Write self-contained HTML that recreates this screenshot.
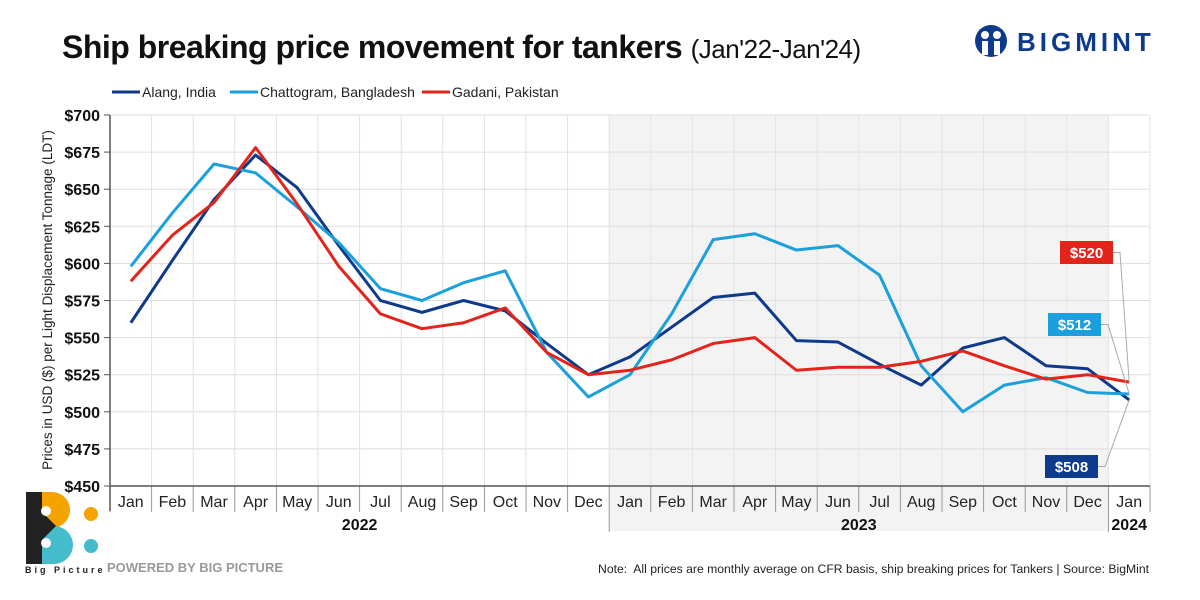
<!DOCTYPE html>
<html><head><meta charset="utf-8">
<style>
body{margin:0;width:1200px;height:600px;background:#fff;font-family:"Liberation Sans",sans-serif;overflow:hidden;position:relative}
.t{position:absolute;white-space:nowrap}
</style></head><body>
<div class="t" style="left:62px;top:29px;font-size:32px;font-weight:bold;color:#111;letter-spacing:-0.5px">Ship breaking price movement for tankers <span style="font-weight:normal;font-size:26px">(Jan'22-Jan'24)</span></div>
<div style="position:absolute;left:973px;top:24px;width:190px;height:34px">
<svg width="40" height="36" viewBox="0 0 40 36"><circle cx="18" cy="17" r="16" fill="#0e3a8c"/><circle cx="12" cy="11" r="4" fill="#fff"/><circle cx="24" cy="11" r="4" fill="#fff"/><rect x="9" y="17" width="6" height="14" fill="#fff"/><rect x="21" y="17" width="6" height="14" fill="#fff"/></svg>
<span class="t" style="left:44px;top:3px;font-size:26px;font-weight:bold;color:#0e3a8c;letter-spacing:4px">BIGMINT</span></div>
<svg id="c" width="1200" height="600" style="position:absolute;left:0;top:0"></svg>
<div style="position:absolute;left:24px;top:492px">
<svg width="80" height="72"><circle cx="28" cy="18" r="18" fill="#f4a300"/><rect x="2" y="0" width="26" height="36" fill="#f4a300"/><circle cx="30" cy="53" r="19" fill="#45bccc"/><rect x="2" y="34" width="28" height="38" fill="#45bccc"/><rect x="2" y="0" width="16" height="72" fill="#222"/><path d="M18,20 L32,34 L18,48Z" fill="#222"/><circle cx="22" cy="19" r="5" fill="#fff"/><circle cx="22" cy="51" r="5" fill="#fff"/><circle cx="67" cy="22" r="7" fill="#f4a300"/><circle cx="67" cy="54" r="7" fill="#45bccc"/></svg></div>
<div class="t" style="left:25px;top:565px;font-size:9px;font-weight:bold;letter-spacing:3px;color:#222">Big Picture</div>
<div class="t" style="left:107px;top:560px;font-size:13px;font-weight:bold;color:#999">POWERED BY BIG PICTURE</div>
<div class="t" style="right:51px;top:562px;font-size:12.2px;color:#222">Note:&nbsp; All prices are monthly average on CFR basis, ship breaking prices for Tankers | Source: BigMint</div>
<script>
const months=["Jan","Feb","Mar","Apr","May","Jun","Jul","Aug","Sep","Oct","Nov","Dec","Jan","Feb","Mar","Apr","May","Jun","Jul","Aug","Sep","Oct","Nov","Dec","Jan"];
const yTicks=[450,475,500,525,550,575,600,625,650,675,700];
const alang=[560,602,643,673,651,612,575,567,575,568,546,525,537,557,577,580,548,547,532,518,543,550,531,529,508];
const chattogram=[598,634,667,661,638,614,583,575,587,595,540,510,525,566,616,620,609,612,592,531,500,518,523,513,512];
const gadani=[588,619,641,678,640,598,566,556,560,570,540,525,528,535,546,550,528,530,530,534,541,531,522,525,520];
const svg=document.getElementById('c');const NS='http://www.w3.org/2000/svg';
const L=110,R=1150,T=115,B=486,bw=(R-L)/months.length;
const x=i=>L+bw*(i+0.5),y=v=>T+(700-v)/250*(B-T);
function mk(t,a,p){const e=document.createElementNS(NS,t);for(const k in a)e.setAttribute(k,a[k]);(p||svg).appendChild(e);return e;}
let sh=mk('rect',{x:L+bw*12,y:T,width:bw*12,height:B-T+45,fill:'#f3f3f3'});


yTicks.forEach(v=>{let g=mk('line',{x1:L,x2:R,y1:y(v),y2:y(v),stroke:'#ddd'});


mk('line',{x1:L-6,x2:L,y1:y(v),y2:y(v),stroke:'#555'});
let t=mk('text',{x:L-10,y:y(v)+6,'text-anchor':'end','font-size':16,'font-weight':'bold',fill:'#111'});t.textContent='$'+v;

});
for(let i=0;i<=months.length;i++){const xx=L+bw*i;
mk('line',{x1:xx,x2:xx,y1:T,y2:B,stroke:'#e2e2e2'});
const yr=(i==12||i==24);mk('line',{x1:xx,x2:xx,y1:B,y2:yr?532:512,stroke:'#999'});}
mk('line',{x1:L,x2:L,y1:T,y2:B+25,stroke:'#555','stroke-width':1.5});
mk('line',{x1:L,x2:R,y1:B,y2:B,stroke:'#555','stroke-width':1.5});
months.forEach((m,i)=>{let t=mk('text',{x:x(i),y:507,'text-anchor':'middle','font-size':16,fill:'#222'});t.textContent=m;

});
[["2022",L+bw*6],["2023",L+bw*18],["2024",x(24)]].forEach(([s,xx])=>{let t=mk('text',{x:xx,y:530,'text-anchor':'middle','font-size':16,'font-weight':'bold',fill:'#111'});t.textContent=s;

});
let yt=mk('text',{x:0,y:0,transform:'translate(52,300) rotate(-90)','text-anchor':'middle','font-size':13.5,fill:'#222'});yt.textContent='Prices in USD ($) per Light Displacement Tonnage (LDT)';


const series=[["alang",alang,"#0e3a8c","Alang, India"],["chattogram",chattogram,"#1aa0dc","Chattogram, Bangladesh"],["gadani",gadani,"#e3241b","Gadani, Pakistan"]];
series.forEach(([n,d,c])=>{let p=mk('polyline',{points:d.map((v,i)=>x(i)+','+y(v)).join(' '),fill:'none',stroke:c,'stroke-width':3,'stroke-linejoin':'round'});

});
const lx=[112,230,422];
series.forEach(([n,d,c,lab],k)=>{mk('line',{x1:lx[k],x2:lx[k]+28,y1:92,y2:92,stroke:c,'stroke-width':3});
let t=mk('text',{x:lx[k]+30,y:97,'font-size':14,fill:'#222'});t.textContent=lab;

});
const boxes=[[gadani,"#e3241b",1060,241],[chattogram,"#1aa0dc",1048,313],[alang,"#0e3a8c",1045,455]];
boxes.forEach(([d,c,bx,by])=>{const v=d[d.length-1];
mk('polyline',{points:`${bx+52},${by+11.5} ${bx+60},${by+11.5} ${x(24)},${y(v)}`,fill:'none',stroke:'#aaa'});
let r=mk('rect',{x:bx,y:by,width:53,height:23,fill:c});


let t=mk('text',{x:bx+26.5,y:by+17,'text-anchor':'middle','font-size':15,'font-weight':'bold',fill:'#fff'});t.textContent='$'+v;});
</script>
</body></html>
